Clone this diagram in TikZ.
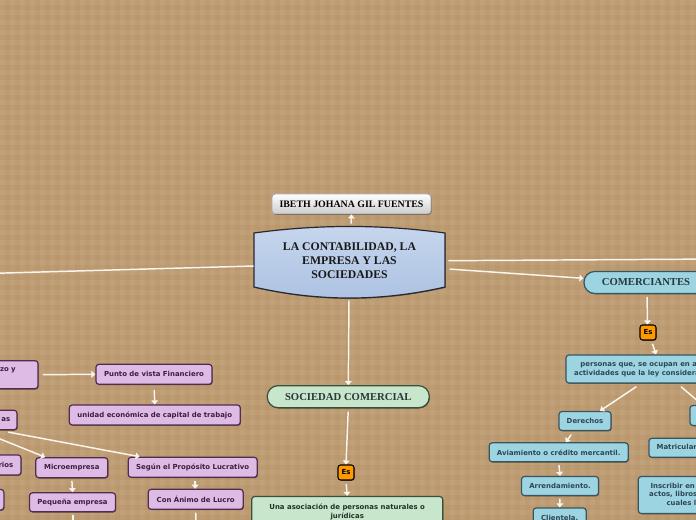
\documentclass[tikz,border=0pt]{standalone}
\usepackage{fontspec}
\newfontfamily\vsans{DejaVu Sans}
\newfontfamily\tser{Liberation Serif}
\usetikzlibrary{arrows.meta,calc,shadows}
\definecolor{bg}{RGB}{186,151,108}
\definecolor{pfill}{RGB}{221,187,228}
\definecolor{pborder}{RGB}{80,45,80}
\definecolor{ptext}{RGB}{60,30,65}
\definecolor{bfill}{RGB}{157,212,226}
\definecolor{bborder}{RGB}{55,85,95}
\definecolor{btext}{RGB}{45,70,82}
\definecolor{gfill}{RGB}{200,230,204}
\definecolor{gborder}{RGB}{55,80,60}
\definecolor{gtext}{RGB}{30,50,38}
\definecolor{mtop}{RGB}{198,214,237}
\definecolor{mbot}{RGB}{172,194,226}
\definecolor{mborder}{RGB}{40,40,50}
\definecolor{esorange}{RGB}{255,153,0}
\definecolor{linec}{RGB}{250,246,238}
\definecolor{headtext}{RGB}{40,55,58}
\begin{document}
\begin{tikzpicture}[x=0.75pt,y=-0.75pt,
  wh/.style 2 args={minimum width=#1*0.75pt,minimum height=#2*0.75pt},
  shad/.style={drop shadow={shadow xshift=0.5pt,shadow yshift=-0.6pt,opacity=0.45,fill=black}},
  sfont/.style={font=\vsans\bfseries\fontsize{5.2}{6.4}\selectfont},
  pbox/.style={sfont,draw=pborder,fill=pfill,text=ptext,rounded corners=2.2pt,line width=0.9pt,inner sep=0pt,align=center,shad},
  ptxt/.style={sfont,text=ptext,inner sep=0pt},
  bbox/.style={sfont,draw=bborder,fill=bfill,text=btext,rounded corners=2.2pt,line width=0.9pt,inner sep=0pt,align=center,shad},
  gbox/.style={sfont,draw=gborder,fill=gfill,text=gtext,rounded corners=2.2pt,line width=0.9pt,inner sep=0pt,align=center,shad},
  pill/.style={font=\tser\bfseries\fontsize{8}{10}\selectfont,text=headtext,rounded corners=8pt,line width=0.9pt,inner sep=0pt,shad},
  esbox/.style={sfont,draw=black,fill=esorange,text=black,rounded corners=2pt,line width=0.8pt,inner sep=0pt,shad},
  conn/.style={draw=linec,line width=1.1pt,-{Triangle[width=5pt,length=3pt]},shorten <=1pt},
  plain/.style={draw=linec,line width=1.1pt}
]
\useasboundingbox (0,0) rectangle (696,520);
\clip (0,0) rectangle (696,520);
\fill[bg] (0,0) rectangle (696,520);
\foreach \i in {0,10,...,690} {
  \fill[white,opacity=0.05] (\i,0) rectangle (\i+5,520);
}
\foreach \j in {0,10,...,520} {
  \fill[white,opacity=0.05] (0,\j) rectangle (696,\j+5);
}

% main shape
\path[draw=mborder,line width=0.9pt,top color=mtop,bottom color=mbot,shad]
  (254,233) -- (254,287) .. controls (318,301.7) and (381,301.7) .. (445,287)
  -- (445,233) .. controls (381,224.3) and (318,224.3) .. (254,233) -- cycle;
\node[wh={191}{54},inner sep=0pt,align=center,text=black!90,
  font=\tser\bfseries\fontsize{8.8}{10.5}\selectfont] (main) at (349.5,260.5)
  {LA CONTABILIDAD, LA\\EMPRESA Y LAS\\SOCIEDADES};
\coordinate (mtopc) at (351,225);
\coordinate (mbotc) at (349,299);

% title
\node[wh={159}{20},inner sep=0pt,draw=gray!70,line width=0.6pt,top color=white,bottom color=gray!40,
  rounded corners=2.5pt,shad,font=\tser\bfseries\fontsize{7.4}{9}\selectfont,text=black] (title) at (351.5,204)
  {IBETH JOHANA GIL FUENTES};

% right branch
\node[pill,draw=bborder,fill=bfill,wh={124}{22}] (com) at (646,282.5) {COMERCIANTES};
\node[esbox,wh={16}{15}] (esR) at (648,332.5) {Es};
\node[bbox,wh={193}{28}] (pers) at (662.5,369)
  {personas que, se ocupan en alguna de las\\actividades que la ley considera mercantiles.};
\node[bbox,wh={80}{20}] (obl) at (730,415.5) {};
\node[bbox,wh={52}{19}] (der) at (585,421) {Derechos};
\node[bbox,wh={139}{19}] (avi) at (558.7,452.3) {Aviamiento o crédito mercantil.};
\node[bbox,wh={77}{19}] (arr) at (560,486) {Arrendamiento.};
\node[bbox,wh={53}{19}] (cli) at (559.7,517.5) {Clientela.};
\node[bbox,anchor=west,minimum height=19*0.75pt,inner xsep=5.8pt] (mat) at (648.3,447.8)
  {Matricularse en el registro mercantil.};
\node[bbox,anchor=west,minimum height=37*0.75pt,inner xsep=8.2pt] (ins) at (637.7,495)
  {Inscribir en el registro mercantil todos los\\actos, libros y documentos respecto de los\\cuales la ley exija esa formalidad.};

% centre branch
\node[pill,draw=gborder,fill=gfill,wh={162}{22}] (soc) at (348.3,396.7) {SOCIEDAD COMERCIAL};
\node[esbox,wh={16}{15}] (esC) at (346,472.5) {Es};
\node[gbox,wh={191}{31}] (una) at (347.2,512)
  {Una asociación de personas naturales o\\jurídicas};

% left branch
\node[pbox,wh={115}{28}] (zoy) at (-19.5,374.7) {};
\node[ptxt,anchor=east] (zoyt) at (16,370) {zo y};
\node[pbox,wh={116}{20}] (punto) at (154,374.3) {Punto de vista Financiero};
\node[pbox,wh={171}{20}] (unidad) at (154.8,415) {unidad económica de capital de trabajo};
\node[pbox,wh={57}{19.5}] (as) at (-11.5,420) {};
\node[ptxt,anchor=east] (ast) at (10.5,420) {as};
\node[pbox,wh={61}{20}] (rios) at (-9.5,465) {};
\node[ptxt,anchor=east] (riost) at (13.5,465) {rios};
\node[pbox,wh={63.7}{20.7}] (sliv) at (-28,499.7) {};
\node[pbox,wh={72}{20}] (micro) at (71.8,467.7) {Microempresa};
\node[pbox,wh={86}{19}] (peq) at (72.5,502.3) {Pequeña empresa};
\node[pbox,wh={129}{20}] (segun) at (192.7,467.3) {Según el Propósito Lucrativo};
\node[pbox,wh={95}{20}] (conan) at (195.7,499.3) {Con Ánimo de Lucro};

\coordinate (offL) at (-30,274);
\coordinate (offR) at (720,259);
\coordinate (peqoff) at (73,530);
\coordinate (conoff) at (196,530);

% connectors
\draw[plain] ($(main.west)+(0,5.5)$) -- (offL);
\draw[plain] ($(main.east)+(3,0.2)$) -- (offR);
\draw[conn] ($(main.east)+(3,8.5)$) -- ($(com.west)+(0,-4.2)$);
\draw[conn] (mtopc) -- (title.south);
\draw[conn] (mbotc) -- (soc.north);
\draw[conn,shorten <=2.5pt] (soc.south) -- (esC.north);
\draw[conn,shorten <=2.5pt] (esC.south) -- (una.north);
\draw[conn,shorten <=2pt] ($(com.south)+(1,0)$) -- ($(esR.north)+(-0.5,0)$);
\draw[conn] ($(esR.south)+(4,2)$) -- ($(pers.north)+(-6.5,0)$);
\draw[conn] ($(pers.south)+(-25,2.3)$) -- ($(der.north)+(15,0)$);
\draw[conn] ($(pers.south)+(17.5,2.3)$) -- ($(obl.north west)+(13,0)$);
\draw[conn] ($(der.south)+(-13,2.5)$) -- ($(avi.north)+(7,0)$);
\draw[conn,shorten <=2pt] (avi.south) -- (arr.north);
\draw[conn,shorten <=2pt] (arr.south) -- (cli.north);
\draw[conn] ($(zoy.east)+(3,0)$) -- (punto.west);
\draw[conn,shorten <=4pt] (punto.south) -- (unidad.north);
\draw[conn] ($(as.south)+(-7.5,1)$) -- ($(micro.north west)+(10,0)$);
\draw[conn] ($(as.south)+(18.5,1.5)$) -- ($(segun.north west)+(12,0)$);
\draw[conn,shorten <=2pt] (micro.south) -- (peq.north);
\draw[conn,shorten <=2pt] ($(segun.south)+(2.5,0)$) -- ($(conan.north)+(-0.5,0)$);
\draw[plain,shorten <=2pt] ($(peq.south)+(0.5,0)$) -- (peqoff);
\draw[plain,shorten <=2pt] (conan.south) -- (conoff);
\end{tikzpicture}
\end{document}
